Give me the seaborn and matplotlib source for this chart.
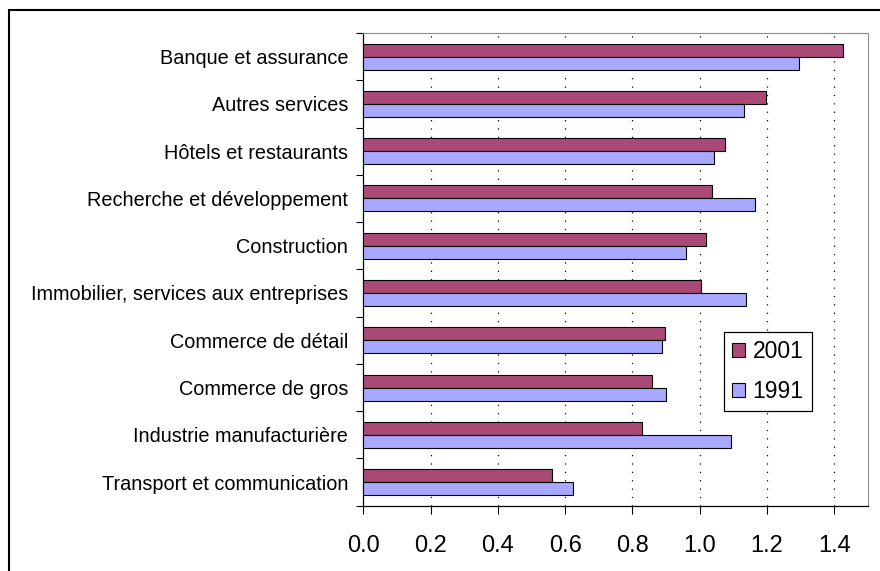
import matplotlib
matplotlib.use("Agg")
import matplotlib.pyplot as plt
import seaborn as sns
import pandas as pd
from matplotlib.patches import Rectangle
from matplotlib.ticker import FixedLocator

categories = [
    "Banque et assurance",
    "Autres services",
    "Hôtels et restaurants",
    "Recherche et développement",
    "Construction",
    "Immobilier, services aux entreprises",
    "Commerce de détail",
    "Commerce de gros",
    "Industrie manufacturière",
    "Transport et communication",
]
values_2001 = [1.427, 1.196, 1.075, 1.036, 1.020, 1.004, 0.898, 0.859, 0.827, 0.561]
values_1991 = [1.295, 1.131, 1.042, 1.163, 0.958, 1.136, 0.887, 0.899, 1.092, 0.624]
series = ["2001", "1991"]
x_ticks = [0.0, 0.2, 0.4, 0.6, 0.8, 1.0, 1.2, 1.4]

df = pd.DataFrame({
    "secteur": categories * 2,
    "valeur": values_2001 + values_1991,
    "annee": [series[0]] * len(categories) + [series[1]] * len(categories),
})

sns.set_style("white")
plt.rcParams["font.family"] = ["Liberation Sans", "DejaVu Sans"]
plt.rcParams["text.color"] = "black"
plt.rcParams["xtick.color"] = "black"
plt.rcParams["ytick.color"] = "black"

fig = plt.figure(figsize=(8.8, 5.71), dpi=100)
ax = fig.add_axes([363.3 / 880, 1 - 505.7 / 571, (868 - 363.3) / 880, (505.7 - 33) / 571])

palette = {"2001": "#A94A76", "1991": "#A8A8FF"}
sns.barplot(data=df, y="secteur", x="valeur", hue="annee", hue_order=series,
            order=categories, palette=palette, width=0.55, saturation=1,
            edgecolor="black", linewidth=0.8, ax=ax, zorder=3)

ax.set_xlim(0, 1.5)
ax.set_ylim(len(categories) - 0.5, -0.5)
ax.xaxis.set_major_locator(FixedLocator(x_ticks))
ax.set_xticklabels([f"{v:.1f}" for v in x_ticks], fontsize=17)
ax.set_xlabel("")
ax.set_ylabel("")

for v in x_ticks[1:]:
    ax.axvline(v, color="black", linewidth=0.9, linestyle=(0, (1, 5.7)), zorder=1)

ax.tick_params(axis="x", direction="out", length=6, width=0.8, colors="black", pad=15, bottom=True)
ax.tick_params(axis="y", which="major", length=0, pad=11, labelsize=14.3, colors="black")
ax.yaxis.set_minor_locator(FixedLocator([i - 0.5 for i in range(len(categories) + 1)]))
ax.tick_params(axis="y", which="minor", direction="out", length=5, width=0.8, color="black", left=True)

for s in ["left", "bottom"]:
    ax.spines[s].set_color("black")
    ax.spines[s].set_linewidth(0.9)
for s in ["top", "right"]:
    ax.spines[s].set_color("#8c8c8c")
    ax.spines[s].set_linewidth(0.8)

leg = ax.legend(loc="upper left", bbox_to_anchor=(0.7147, 0.3675), fontsize=16.5,
                frameon=True, fancybox=False, edgecolor="black", framealpha=1,
                handlelength=0.55, handleheight=0.55, handletextpad=0.35,
                borderpad=0.35, labelspacing=0.75, borderaxespad=0)
leg.get_frame().set_linewidth(0.9)

fig.patches.append(Rectangle((9 / 880, -0.1), 1.2, 1 - 10 / 571 + 0.1,
                             transform=fig.transFigure, fill=False,
                             edgecolor="black", linewidth=1.5, zorder=0))

fig.savefig("out.png", dpi=100)
